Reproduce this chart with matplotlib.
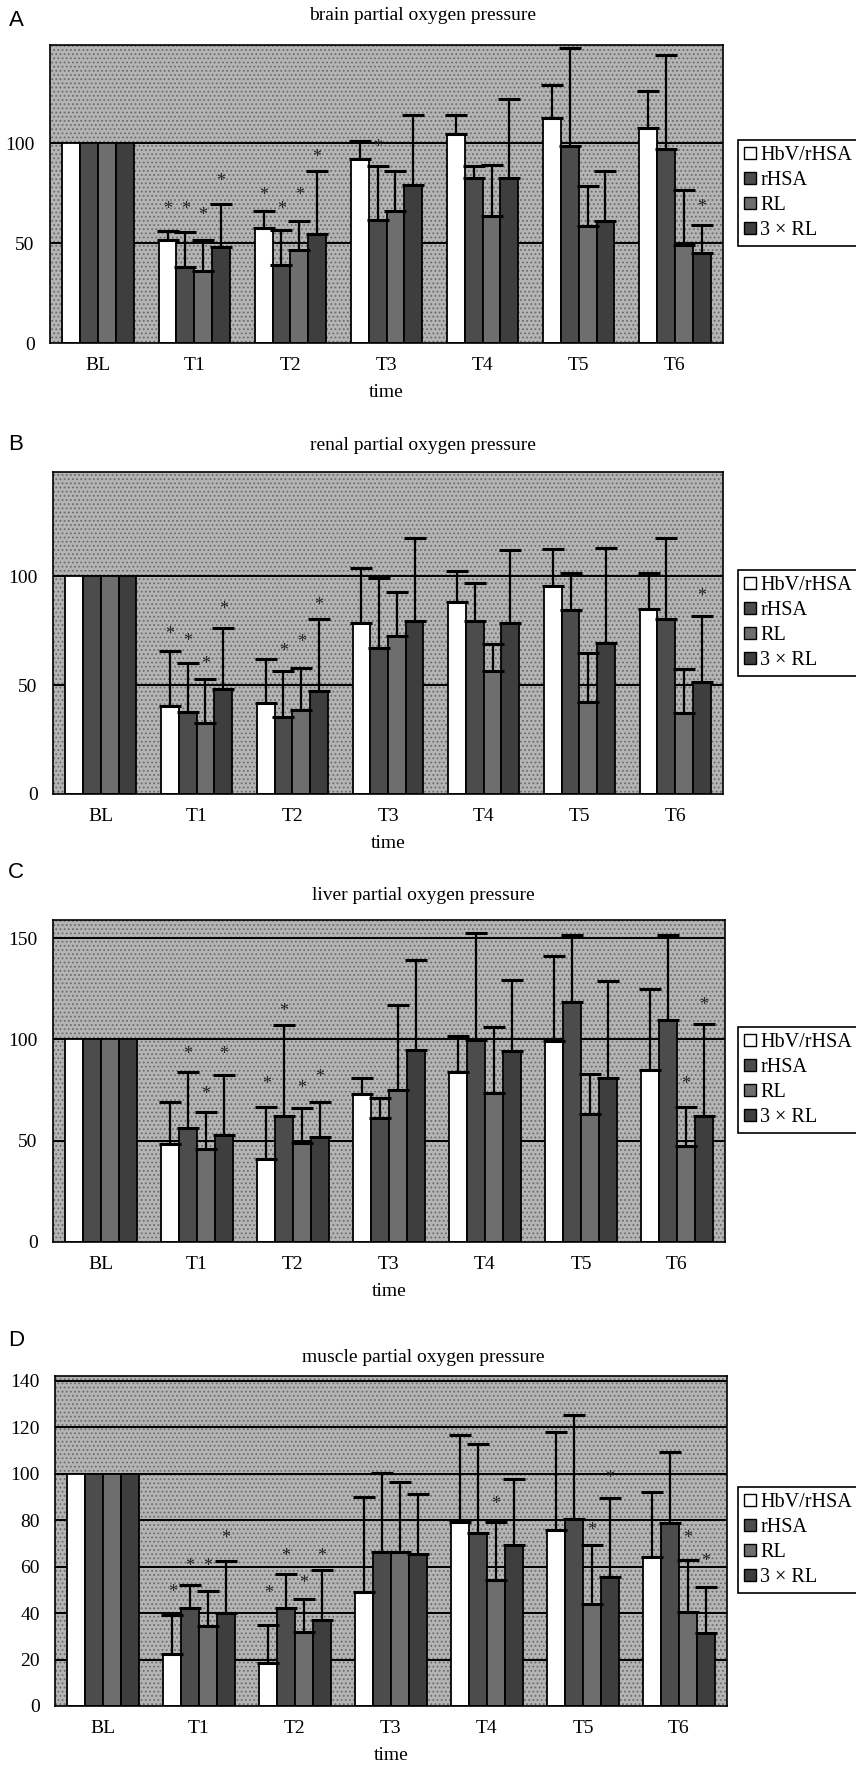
import numpy as np
import matplotlib
matplotlib.use('Agg')
import matplotlib.pyplot as plt
from matplotlib.patches import Patch, Rectangle

groups = ['BL', 'T1', 'T2', 'T3', 'T4', 'T5', 'T6']
series = ['HbV/rHSA', 'rHSA', 'RL', '3 × RL']

# ---- brain (A) : means for BL..T6, upper SD for T1..T6
brain_hbv = [100, 51.3, 57.5, 92.0, 104.7, 112.5, 107.5]
brain_rhsa = [100, 38.0, 39.0, 61.7, 82.5, 98.3, 97.0]
brain_rl = [100, 35.8, 46.3, 65.8, 63.7, 58.3, 49.2]
brain_3rl = [100, 48.0, 54.7, 79.2, 82.5, 60.8, 45.0]
brain_hbv_sd = [4.5, 8.3, 8.8, 9.5, 16.7, 18.3]
brain_rhsa_sd = [17.3, 17.7, 26.6, 6.2, 49.2, 47.0]
brain_rl_sd = [15.5, 14.5, 20.0, 25.5, 20.0, 27.5]
brain_3rl_sd = [21.5, 31.5, 35.0, 39.5, 25.0, 14.2]
brain_stars = [(1, 0, 67), (1, 1, 67), (1, 2, 64), (1, 3, 81), (2, 0, 74), (2, 1, 67),
               (2, 2, 74), (2, 3, 92.5), (3, 1, 97.5), (6, 3, 68)]

# ---- renal (B)
renal_hbv = [100, 40.4, 41.9, 78.8, 88.3, 95.4, 84.9]
renal_rhsa = [100, 37.8, 35.5, 67.3, 79.6, 84.6, 80.6]
renal_rl = [100, 32.7, 38.6, 72.4, 56.5, 42.2, 37.3]
renal_3rl = [100, 48.4, 47.3, 79.6, 78.8, 69.6, 51.5]
renal_hbv_sd = [25.3, 20.3, 25.3, 14.3, 17.2, 16.9]
renal_rhsa_sd = [22.2, 21.0, 32.2, 17.6, 17.2, 36.9]
renal_rl_sd = [20.0, 19.4, 20.6, 12.3, 22.5, 20.3]
renal_3rl_sd = [28.1, 33.0, 37.9, 33.5, 43.3, 30.4]
renal_stars = [(1, 0, 73.4), (1, 1, 70), (1, 2, 59.6), (1, 3, 85), (2, 1, 65.3),
               (2, 2, 69.6), (2, 3, 86.5), (6, 3, 91)]

# ---- liver (C)
liver_hbv = [100, 48.2, 40.8, 72.9, 83.8, 99.3, 84.7]
liver_rhsa = [100, 56.4, 62.4, 61.0, 99.8, 118.5, 109.4]
liver_rl = [100, 45.9, 48.7, 75.1, 73.4, 63.0, 47.5]
liver_3rl = [100, 52.8, 52.0, 94.9, 94.4, 80.9, 62.2]
liver_hbv_sd = [21.1, 26.0, 8.0, 17.7, 41.7, 40.4]
liver_rhsa_sd = [27.3, 44.9, 10.0, 52.8, 33.0, 42.4]
liver_rl_sd = [18.5, 17.3, 41.7, 33.0, 19.8, 19.3]
liver_3rl_sd = [29.7, 17.0, 44.5, 35.1, 48.1, 45.4]
liver_stars = [(1, 1, 92.4), (1, 2, 73), (1, 3, 92.4), (2, 0, 77.6), (2, 1, 114),
               (2, 2, 76), (2, 3, 81), (6, 2, 78), (6, 3, 117)]

# ---- muscle (D)
muscle_hbv = [100, 22.3, 18.6, 49.0, 79.0, 75.7, 64.3]
muscle_rhsa = [100, 42.3, 42.3, 66.1, 74.3, 80.4, 78.6]
muscle_rl = [100, 34.3, 31.9, 66.1, 54.3, 43.7, 40.4]
muscle_3rl = [100, 40.0, 37.1, 65.4, 69.4, 55.4, 31.4]
muscle_hbv_sd = [16.7, 16.1, 41.0, 37.6, 42.3, 27.6]
muscle_rhsa_sd = [9.6, 14.3, 34.3, 38.3, 44.7, 30.7]
muscle_rl_sd = [15.0, 14.2, 30.5, 24.7, 25.7, 22.5]
muscle_3rl_sd = [22.3, 21.5, 25.7, 28.2, 34.3, 19.7]
muscle_stars = [(1, 0, 49), (1, 1, 60), (1, 2, 60), (1, 3, 72), (2, 0, 48.4), (2, 1, 64.5),
                (2, 2, 52.7), (2, 3, 64.5), (4, 2, 86.8), (5, 2, 75.4), (5, 3, 98),
                (6, 2, 72), (6, 3, 62)]

W, H = 856, 1773
SERIF = 'Liberation Serif'
SANS = 'Liberation Sans'

panels = [
    dict(letter='A', letter_y=20, title='brain partial oxygen pressure', title_y=15,
         means=[brain_hbv, brain_rhsa, brain_rl, brain_3rl],
         sds=[brain_hbv_sd, brain_rhsa_sd, brain_rl_sd, brain_3rl_sd],
         stars=brain_stars, ymax=149, yticks=[0, 50, 100], grid=[50, 100],
         box=(50, 723, 45, 343), leg_top=140),
    dict(letter='B', letter_y=445, title='renal partial oxygen pressure', title_y=445,
         means=[renal_hbv, renal_rhsa, renal_rl, renal_3rl],
         sds=[renal_hbv_sd, renal_rhsa_sd, renal_rl_sd, renal_3rl_sd],
         stars=renal_stars, ymax=148, yticks=[0, 50, 100], grid=[50, 100],
         box=(53, 723, 472, 794), leg_top=570),
    dict(letter='C', letter_y=872, title='liver partial oxygen pressure', title_y=895,
         means=[liver_hbv, liver_rhsa, liver_rl, liver_3rl],
         sds=[liver_hbv_sd, liver_rhsa_sd, liver_rl_sd, liver_3rl_sd],
         stars=liver_stars, ymax=159, yticks=[0, 50, 100, 150], grid=[50, 100, 150],
         box=(53, 725, 920, 1242), leg_top=1027),
    dict(letter='D', letter_y=1340, title='muscle partial oxygen pressure', title_y=1357,
         means=[muscle_hbv, muscle_rhsa, muscle_rl, muscle_3rl],
         sds=[muscle_hbv_sd, muscle_rhsa_sd, muscle_rl_sd, muscle_3rl_sd],
         stars=muscle_stars, ymax=142, yticks=[0, 20, 40, 60, 80, 100, 120, 140],
         grid=[20, 40, 60, 80, 100, 120, 140],
         box=(55, 727, 1376, 1706), leg_top=1487),
]

colors = ['#ffffff', '#4c4c4c', '#6e6e6e', '#3e3e3e']
bar_w = 0.185
offsets = [(-1.5 + i) * bar_w for i in range(4)]

plt.rcParams['hatch.linewidth'] = 0.8
fig = plt.figure(figsize=(W / 100, H / 100), dpi=100)

for p in panels:
    l, r, t, b = p['box']
    ax = fig.add_axes([l / W, 1 - b / H, (r - l) / W, (b - t) / H])
    ax.set_facecolor('#b4b4b4')
    ax.add_patch(Rectangle((0, 0), 1, 1, transform=ax.transAxes, facecolor='none',
                           edgecolor='#6c6c6c', hatch='....', lw=0, zorder=0))
    x = np.arange(len(groups))
    for gy in p['grid']:
        ax.axhline(gy, color='black', lw=1.4, zorder=0.6)
    for i in range(4):
        xs = x + offsets[i]
        ax.bar(xs, p['means'][i], bar_w, color=colors[i], edgecolor='black',
               linewidth=1.3, zorder=2)
        sd = np.array(p['sds'][i])
        m = np.array(p['means'][i][1:])
        ax.errorbar(xs[1:], m, yerr=[np.zeros_like(sd), sd], fmt='none',
                    ecolor='black', elinewidth=1.6, capsize=8, capthick=2.2, zorder=3)
    for g, s, yv in p['stars']:
        ax.text(g + offsets[s], yv, '*', ha='center', va='center', fontsize=13,
                color='#222222', family=SERIF, zorder=4)
    ax.set_xlim(-0.5, len(groups) - 0.5)
    ax.set_ylim(0, p['ymax'])
    ax.set_xticks(x)
    ax.set_xticklabels(groups, family=SERIF, fontsize=14)
    ax.set_yticks(p['yticks'])
    ax.set_yticklabels([str(v) for v in p['yticks']], family=SERIF, fontsize=14)
    ax.tick_params(axis='x', length=0, pad=10)
    ax.tick_params(axis='y', length=0, pad=11)
    ax.set_xlabel('time', family=SERIF, fontsize=14, labelpad=7)
    for sp in ax.spines.values():
        sp.set_color('black')
        sp.set_linewidth(1.2)
    handles = [Patch(facecolor=c, edgecolor='black', lw=1) for c in colors]
    leg = ax.legend(handles, series, loc='upper left',
                    bbox_to_anchor=(738 / W, 1 - p['leg_top'] / H),
                    bbox_transform=fig.transFigure, frameon=True, fancybox=False,
                    edgecolor='black', framealpha=1, borderpad=0.3, borderaxespad=0,
                    handlelength=0.6, handleheight=0.6, handletextpad=0.2,
                    labelspacing=0.3, prop=dict(family=SERIF, size=14.5))
    leg.get_frame().set_linewidth(1.2)
    fig.text(423 / W, 1 - p['title_y'] / H, p['title'], ha='center', va='center',
             family=SERIF, fontsize=14)
    fig.text(16 / W, 1 - p['letter_y'] / H, p['letter'], ha='center', va='center',
             family=SANS, fontsize=16)

fig.savefig('out.png', dpi=100)
